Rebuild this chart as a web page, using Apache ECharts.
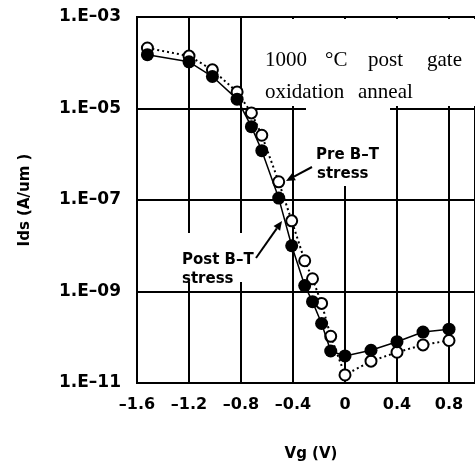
<!DOCTYPE html>
<html>
<head>
<meta charset="utf-8">
<script src="https://cdn.jsdelivr.net/npm/echarts@6/dist/echarts.min.js"></script>
<style>
html,body{margin:0;padding:0;background:#fff;}
#chart{width:475px;height:467px;}
</style>
</head>
<body>
<div id="chart"></div>
<script>
// Gate voltage (V)
const vg = [-1.52, -1.2, -1.02, -0.83, -0.72, -0.64, -0.51, -0.41, -0.31, -0.25, -0.18, -0.11, 0, 0.2, 0.4, 0.6, 0.8];
// Ids (A/um), Pre B-T stress (open circles, dotted)
const idsPre = [2.1e-4, 1.4e-4, 7e-5, 2.3e-5, 8e-6, 2.6e-6, 2.5e-7, 3.5e-8, 4.7e-9, 1.9e-9, 5.5e-10, 1.05e-10, 1.5e-11, 3e-11, 4.7e-11, 6.8e-11, 8.5e-11];
// Ids (A/um), Post B-T stress (filled circles, solid)
const idsPost = [1.5e-4, 1.05e-4, 5e-5, 1.6e-5, 4e-6, 1.2e-6, 1.1e-7, 1e-8, 1.35e-9, 6e-10, 2e-10, 5e-11, 3.9e-11, 5.2e-11, 8e-11, 1.3e-10, 1.5e-10];

const xTitle = 'Vg (V)';
const yTitle = 'Ids (A/um )';
const noteLine1 = ['1000', '°C', 'post', 'gate'];
const noteLine2 = ['oxidation', 'anneal'];
const preLabel = ['Pre B–T', 'stress'];
const postLabel = ['Post B–T', 'stress'];

const FONT = '"DejaVu Sans", sans-serif';
const SERIF = '"Liberation Serif", "DejaVu Serif", serif';

function pairs(xs, ys) { return xs.map((x, i) => [x, ys[i]]); }

function arrow(x1, y1, x2, y2) {
  const ang = Math.atan2(y2 - y1, x2 - x1);
  const L = 9, W = 4;
  const bx = x2 - L * Math.cos(ang), by = y2 - L * Math.sin(ang);
  const px = -Math.sin(ang) * W, py = Math.cos(ang) * W;
  return [
    { type: 'line', z: 20, shape: { x1: x1, y1: y1, x2: bx, y2: by }, style: { stroke: '#000', lineWidth: 2 } },
    { type: 'polygon', z: 20, shape: { points: [[x2, y2], [bx + px, by + py], [bx - px, by - py]] }, style: { fill: '#000' } }
  ];
}

function txt(x, y, s, font, size, bold) {
  return { type: 'text', z: 20, x: x, y: y, style: { text: s, fill: '#000', font: (bold ? 'bold ' : '') + size + 'px ' + font, textVerticalAlign: 'alphabetic', verticalAlign: 'alphabetic' } };
}

const graphics = [
  { type: 'rect', z: 1, shape: { x: 250, y: 19, width: 230, height: 87 }, style: { fill: '#fff' } },
  { type: 'rect', z: 1, shape: { x: 306, y: 106, width: 84, height: 80 }, style: { fill: '#fff' } },
  { type: 'rect', z: 1, shape: { x: 178, y: 233, width: 80, height: 49 }, style: { fill: '#fff' } },
  txt(265, 50, noteLine1[0], SERIF, 21, false),
  txt(325, 50, noteLine1[1], SERIF, 21, false),
  txt(368, 50, noteLine1[2], SERIF, 21, false),
  txt(427, 50, noteLine1[3], SERIF, 21, false),
  txt(265, 82, noteLine2[0], SERIF, 21, false),
  txt(358, 82, noteLine2[1], SERIF, 21, false),
  txt(316, 148, preLabel[0], FONT, 15, true),
  txt(317, 167, preLabel[1], FONT, 15, true),
  txt(182, 253, postLabel[0], FONT, 15, true),
  txt(182, 272, postLabel[1], FONT, 15, true)
].concat(arrow(312, 167, 286, 181)).concat(arrow(256, 258, 282, 221));

const chart = echarts.init(document.getElementById('chart'), null, { renderer: 'canvas' });
chart.setOption({
  backgroundColor: '#fff',
  animation: false,
  grid: { left: 137, top: 17, right: -2, bottom: 82, show: true, borderColor: '#000', borderWidth: 2, backgroundColor: 'transparent' },
  xAxis: {
    type: 'value', min: -1.6, max: 1.0, interval: 0.4,
    name: xTitle, nameLocation: 'middle', nameGap: 64,
    nameTextStyle: { fontFamily: FONT, fontWeight: 'bold', fontSize: 15, color: '#000', padding: [0, 0, 0, 10] },
    axisLine: { show: false },
    axisTick: { show: false },
    axisLabel: {
      margin: 14, color: '#000', fontFamily: FONT, fontWeight: 'bold', fontSize: 16, showMaxLabel: false,
      formatter: v => (Math.abs(v) < 1e-9 ? '0' : (v < 0 ? '–' : '') + Math.abs(v).toFixed(1))
    },
    splitLine: { show: true, lineStyle: { color: '#000', width: 2 } }
  },
  yAxis: {
    type: 'log', logBase: 10, min: 1e-11, max: 1e-3, interval: 2,
    name: yTitle, nameLocation: 'middle', nameGap: 104, nameRotate: 90,
    nameTextStyle: { fontFamily: FONT, fontWeight: 'bold', fontSize: 15, color: '#000', padding: [0, 0, 0, 0] },
    axisLine: { show: false },
    axisTick: { show: false },
    axisLabel: {
      margin: 16, color: '#000', fontFamily: FONT, fontWeight: 'bold', fontSize: 17,
      formatter: v => { const e = Math.round(Math.log10(v)); return '1.E–' + String(-e).padStart(2, '0'); }
    },
    splitLine: { show: true, lineStyle: { color: '#000', width: 2 } }
  },
  series: [
    {
      name: 'Pre B-T stress', type: 'line', data: pairs(vg, idsPre), z: 3,
      symbol: 'emptyCircle', symbolSize: 11,
      itemStyle: { color: '#000', borderColor: '#000', borderWidth: 2 },
      lineStyle: { color: '#000', width: 2, type: [2, 3] }
    },
    {
      name: 'Post B-T stress', type: 'line', data: pairs(vg, idsPost), z: 4,
      symbol: 'circle', symbolSize: 13,
      itemStyle: { color: '#000' },
      lineStyle: { color: '#000', width: 1.5 }
    }
  ],
  graphic: graphics
});
</script>
</body>
</html>
